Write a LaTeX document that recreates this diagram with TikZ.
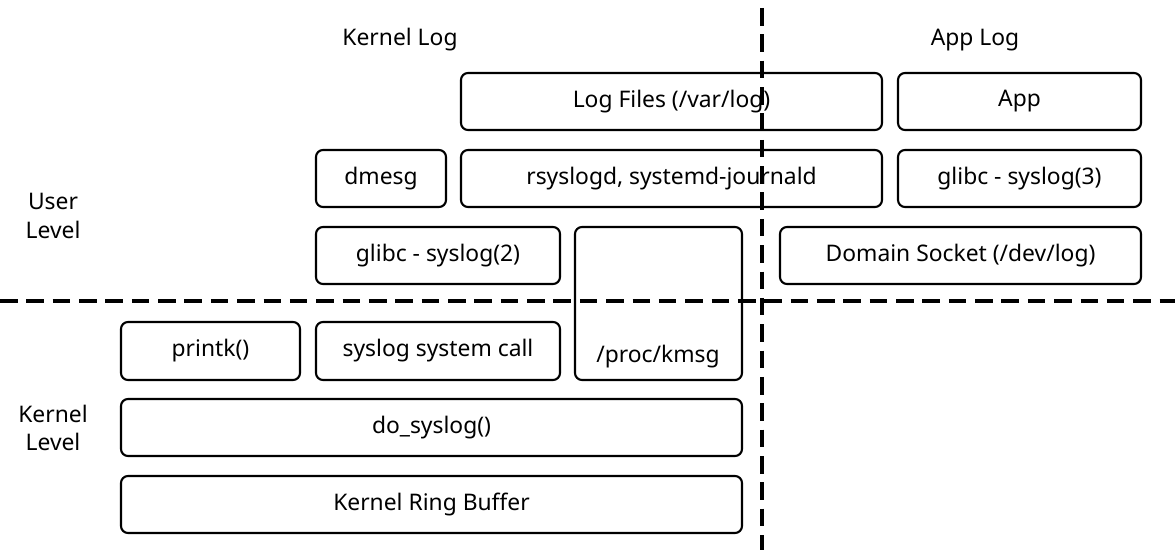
\documentclass[tikz,border=0pt]{standalone}
\usepackage{fontspec}
\setmainfont{Noto Sans}
\begin{document}
\begin{tikzpicture}[x=0.02cm,y=-0.02cm,
  box/.style={draw,line width=1.2pt,rounded corners=4pt,font=\fontsize{13}{15}\selectfont},
  lbl/.style={font=\fontsize{13}{16}\selectfont\bfseries,align=center},
  sep/.style={line width=2.2pt,dash pattern=on 10pt off 5pt}]
\useasboundingbox (0,0) rectangle (1175,550);
\newcommand\bx[6]{\draw[box] (#2,#3) rectangle (#4,#5); \node[font=\fontsize{13}{15}\selectfont] (#1) at ({(#2+#4)/2},{(#3+#5)/2}) {#6};}
\bx{logf}{461}{73}{882}{130}{Log Files (/var/log)}
\bx{app}{898}{73}{1141}{130}{App}
\bx{dmesg}{316}{150}{446}{207}{dmesg}
\bx{rsys}{461}{150}{882}{207}{rsyslogd, systemd-journald}
\bx{gl3}{898}{150}{1141}{207}{glibc - syslog(3)}
\bx{gl2}{316}{227}{560}{284}{glibc - syslog(2)}
\draw[box] (575,227) rectangle (742,380);
\node[font=\fontsize{13}{15}\selectfont] (kmsg) at (658,357) {/proc/kmsg};
\bx{dsock}{780}{227}{1141}{284}{Domain Socket (/dev/log)}
\bx{printk}{121}{322}{300}{380}{printk()}
\bx{sscall}{316}{322}{560}{380}{syslog system call}
\bx{dosys}{121}{399}{742}{456}{do\_syslog()}
\bx{krb}{121}{476}{742}{533}{Kernel Ring Buffer}
\draw[sep] (762,8) -- (762,550);
\draw[sep] (0,301) -- (1175,301);
\node[lbl] (kl) at (400,40) {Kernel Log};
\node[lbl] (al) at (975,40) {App Log};
\node[lbl] (ul) at (53,216) {User\\Level};
\node[lbl] (kel) at (53,428) {Kernel\\Level};
\end{tikzpicture}
\end{document}
